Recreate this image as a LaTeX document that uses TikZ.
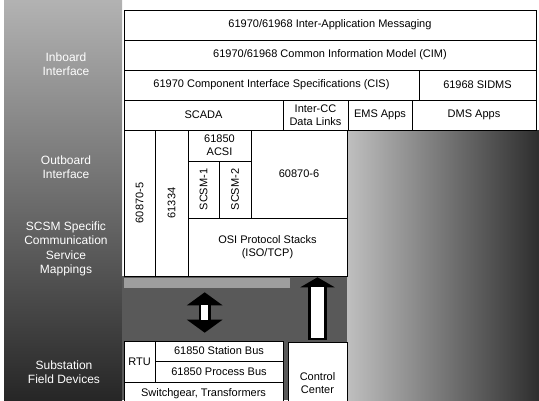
\documentclass[tikz,border=0pt]{standalone}
\usepackage{fontspec}
\setmainfont{Liberation Sans}
\usepackage{tikz}
\usetikzlibrary{arrows.meta, positioning}

\begin{document}
\begin{tikzpicture}[x=1pt, y=-1pt,
        blk/.style={draw, fill=white, line width=0.6pt, inner sep=1pt, align=center,
            font=\fontsize{11}{13}\selectfont},
        side/.style={text=white, align=center, font=\fontsize{12}{14.5}\selectfont},
        updown/.style={line width=12pt,
            {Triangle[length=13pt,width=35pt]}-{Triangle[length=13pt,width=35pt]}},
        upfat/.style={line width=19pt, -{Triangle[length=10pt,width=34pt]}}]
        \useasboundingbox (0,0) rectangle (539,400);
%
        % grey background
        \shade[top color=black!30, middle color=black!62, bottom color=black!85]
            (4,0) rectangle (122,400);
        \shade[left color=black!25, middle color=black!55, right color=black!82]
            (347,130) rectangle (539,400);
        \fill[black!65] (122,276) rectangle (347,400);
        \fill[black!38] (124,278) rectangle (290,288);
%
        % layers
        \node[blk, minimum width=412, minimum height=30] (iam) at (330,25)
            {61970/61968 Inter-Application Messaging};
        \node[blk, minimum width=412, minimum height=30] (cim) at (330,55)
            {61970/61968 Common Information Model (CIM)};
        \node[blk, minimum width=295, minimum height=30] (cis) at (271.5,85)
            {61970 Component Interface Specifications (CIS)};
        \node[blk, minimum width=117, minimum height=30] (sidms) at (477.5,85)
            {61968 SIDMS};
        \node[blk, minimum width=159, minimum height=30] (scada) at (203.5,115) {SCADA};
        \node[blk, minimum width=65, minimum height=30] (intercc) at (315.5,115)
            {Inter-CC\\Data Links};
        \node[blk, minimum width=64, minimum height=30] (ems) at (380,115) {EMS Apps};
        \node[blk, minimum width=124, minimum height=30] (dms) at (474,115) {DMS Apps};
%
        \node[blk, rotate=90, minimum width=146, minimum height=31] (ieca) at (139.5,203)
            {60870-5};
        \node[blk, rotate=90, minimum width=146, minimum height=33] (iecb) at (171.5,203)
            {61334};
        \node[blk, minimum width=63, minimum height=31] (acsi) at (219.5,145.5)
            {61850\\ACSI};
        \node[blk, rotate=90, minimum width=57, minimum height=31] (scsma) at (203.5,189.5)
            {SCSM-1};
        \node[blk, rotate=90, minimum width=57, minimum height=32] (scsmb) at (235,189.5)
            {SCSM-2};
        \node[blk, minimum width=96, minimum height=88] (iecc) at (299,174) {60870-6};
        \node[blk, minimum width=159, minimum height=58] (osi) at (267.5,247)
            {OSI Protocol Stacks\\(ISO/TCP)};
%
        \node[blk, minimum width=31, minimum height=41] (rtu) at (139.5,361.5) {RTU};
        \node[blk, minimum width=128, minimum height=20] (stbus) at (219,351)
            {61850 Station Bus};
        \node[blk, minimum width=128, minimum height=21] (prbus) at (219,371.5)
            {61850 Process Bus};
        \node[blk, minimum width=159, minimum height=24] (swgear) at (203.5,394)
            {Switchgear, Transformers};
        \node[blk, minimum width=59, minimum height=82] (ctrl) at (317.5,383)
            {Control\\Center};
%
        % interface labels
        \node[side] (inboard) at (66,64) {Inboard\\Interface};
        \node[side] (outboard) at (66,167) {Outboard\\Interface};
        \node[side] (scsm) at (66,249) {SCSM Specific\\Communication\\Service\\Mappings};
        \node[side] (field) at (64,372) {Substation\\Field Devices};
%
        % arrows
        \draw[updown, shorten <=16pt, shorten >=8pt]
            ([xshift=17pt]osi.south west) -- ([xshift=17pt]osi.south west |- stbus.north);
        \draw[white, line width=7pt, shorten <=29pt, shorten >=21pt]
            ([xshift=17pt]osi.south west) -- ([xshift=17pt]osi.south west |- stbus.north);
        \draw[upfat, shorten <=2pt, shorten >=1pt] (ctrl.north) -- (ctrl.north |- osi.south);
        \draw[white, line width=13pt, shorten <=4pt, shorten >=11pt]
            (ctrl.north) -- (ctrl.north |- osi.south);
\end{tikzpicture}
\end{document}
